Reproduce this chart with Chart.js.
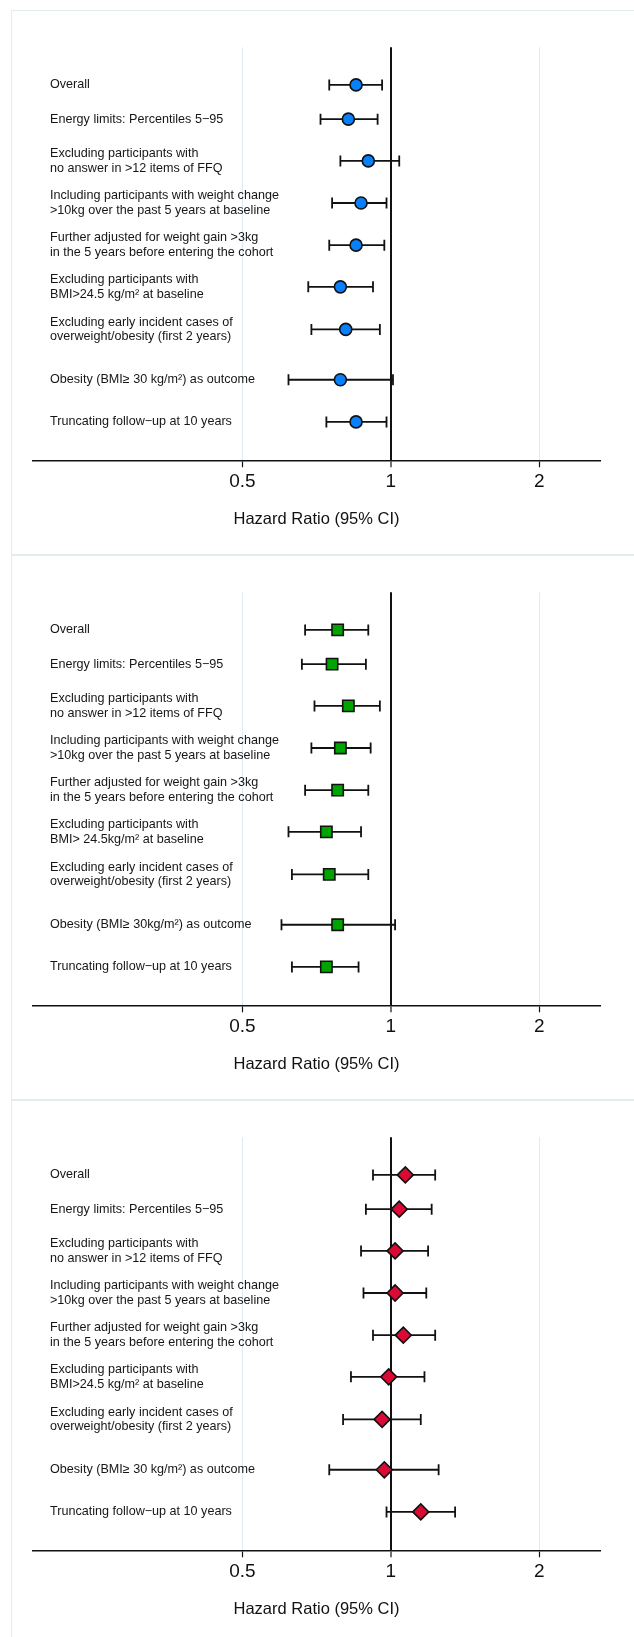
<!DOCTYPE html>
<html>
<head>
<meta charset="utf-8">
<script src="https://cdn.jsdelivr.net/npm/chart.js@4.4.1/dist/chart.umd.min.js"></script>
<style>
  html, body { margin: 0; padding: 0; background: #fff; }
  body { position: relative; width: 634px; height: 1637px; overflow: hidden; }
  .marco { position: absolute; left: 11px; width: 640px; height: 545px; border: 1px solid #e2eded; box-sizing: border-box; }
  canvas { position: absolute; left: 0; }
</style>
</head>
<body>
<div class="marco" style="top:10px"></div>
<div class="marco" style="top:555px"></div>
<div class="marco" style="top:1100px"></div>
<canvas id="panel1" width="634" height="545" style="top:10px"></canvas>
<canvas id="panel2" width="634" height="545" style="top:555px"></canvas>
<canvas id="panel3" width="634" height="545" style="top:1100px"></canvas>
<script>
var fuente = '"Liberation Sans", Arial, Helvetica, sans-serif';

// filas (mismo orden en los tres paneles)
var etiquetas = [
  'Overall',
  'Energy limits: Percentiles 5\u221295',
  ['Excluding participants with', 'no answer in >12 items of FFQ'],
  ['Including participants with weight change', '>10kg over the past 5 years at baseline'],
  ['Further adjusted for weight gain >3kg', 'in the 5 years before entering the cohort'],
  ['Excluding participants with', 'BMI>24.5 kg/m\u00b2 at baseline'],
  ['Excluding early incident cases of', 'overweight/obesity (first 2 years)'],
  'Obesity (BMI\u2265 30 kg/m\u00b2) as outcome',
  'Truncating follow\u2212up at 10 years'
];
var etiquetas2 = [
  'Overall',
  'Energy limits: Percentiles 5\u221295',
  ['Excluding participants with', 'no answer in >12 items of FFQ'],
  ['Including participants with weight change', '>10kg over the past 5 years at baseline'],
  ['Further adjusted for weight gain >3kg', 'in the 5 years before entering the cohort'],
  ['Excluding participants with', 'BMI> 24.5kg/m\u00b2 at baseline'],
  ['Excluding early incident cases of', 'overweight/obesity (first 2 years)'],
  'Obesity (BMI\u2265 30kg/m\u00b2) as outcome',
  'Truncating follow\u2212up at 10 years'
];
// posicion vertical de cada fila (unidades del eje y, 0 = eje x)
var posFilas = [9.09, 8.26, 7.25, 6.23, 5.21, 4.2, 3.17, 1.95, 0.93];
var ticksHR = [0.5, 1, 2];

var hr1 = [0.85, 0.82, 0.90, 0.87, 0.85, 0.79, 0.81, 0.79, 0.85];
var lo1 = [0.75, 0.72, 0.79, 0.76, 0.75, 0.68, 0.69, 0.62, 0.74];
var hi1 = [0.96, 0.94, 1.04, 0.98, 0.97, 0.92, 0.95, 1.01, 0.98];

var hr2 = [0.78, 0.76, 0.82, 0.79, 0.78, 0.74, 0.75, 0.78, 0.74];
var lo2 = [0.67, 0.66, 0.70, 0.69, 0.67, 0.62, 0.63, 0.60, 0.63];
var hi2 = [0.90, 0.89, 0.95, 0.91, 0.90, 0.87, 0.90, 1.02, 0.86];

var hr3 = [1.07, 1.04, 1.02, 1.02, 1.06, 0.99, 0.96, 0.97, 1.15];
var lo3 = [0.92, 0.89, 0.87, 0.88, 0.92, 0.83, 0.80, 0.75, 0.98];
var hi3 = [1.23, 1.21, 1.19, 1.18, 1.23, 1.17, 1.15, 1.25, 1.35];

var pluginEtiquetas = {
  id: 'etiquetas',
  afterDatasetsDraw: function(chart, args, opts) {
    var ctx = chart.ctx;
    var escalaY = chart.scales.y;
    var area = chart.chartArea;
    ctx.save();
    ctx.font = '12.6px ' + fuente;
    ctx.fillStyle = '#161616';
    ctx.textAlign = 'left';
    ctx.textBaseline = 'middle';
    opts.textos.forEach(function(t, i) {
      var lineas = Array.isArray(t) ? t : [t];
      var yc = escalaY.getPixelForValue(posFilas[i]);
      lineas.forEach(function(l, k) {
        ctx.fillText(l, area.left + 17, yc + (k - (lineas.length - 1) / 2) * 14.7);
      });
    });
    ctx.restore();
  }
};

function crearPanel(id, hr, lo, hi, textos, color, estilo, radio) {
  var datasets = [];
  for (var i = 0; i < hr.length; i++) {
    datasets.push({
      data: [{ x: lo[i], y: posFilas[i] }, { x: hi[i], y: posFilas[i] }],
      showLine: true,
      borderColor: '#111',
      borderWidth: 1.8,
      pointStyle: 'line',
      pointRotation: 90,
      pointRadius: 5.5,
      pointBorderColor: '#111',
      pointBorderWidth: 1.8,
      order: 1
    });
  }
  datasets.push({
    data: hr.map(function(v, i) { return { x: v, y: posFilas[i] }; }),
    showLine: false,
    pointStyle: estilo,
    pointRadius: radio,
    pointBackgroundColor: color,
    pointBorderColor: '#111',
    pointBorderWidth: 1.6,
    order: 0
  });

  new Chart(document.getElementById(id).getContext('2d'), {
    type: 'scatter',
    data: { datasets: datasets },
    options: {
      responsive: false,
      animation: false,
      events: [],
      layout: { padding: { left: 33, right: 34, top: 37.3, bottom: 0 } },
      plugins: {
        legend: { display: false },
        tooltip: { enabled: false },
        etiquetas: { textos: textos }
      },
      scales: {
        x: {
          type: 'logarithmic',
          min: 0.188,
          max: 2.656,
          afterBuildTicks: function(s) { s.ticks = ticksHR.map(function(v) { return { value: v }; }); },
          afterFit: function(s) { s.height = 94.7; },
          ticks: {
            autoSkip: false,
            maxRotation: 0,
            padding: 3,
            color: '#111',
            font: { family: fuente, size: 19 },
            callback: function(v) { return String(v); }
          },
          grid: {
            color: function(c) { return c.tick && c.tick.value === 1 ? '#111' : '#dcecf1'; },
            lineWidth: function(c) { return c.tick && c.tick.value === 1 ? 2 : 1; },
            tickColor: '#111',
            tickWidth: 1.2,
            tickLength: 7
          },
          border: { display: true, color: '#111', width: 1.5 },
          title: {
            display: true,
            text: 'Hazard Ratio (95% CI)',
            color: '#111',
            font: { family: fuente, size: 16.5 },
            padding: { top: 0, bottom: 26 }
          }
        },
        y: { type: 'linear', min: 0, max: 10, display: false }
      }
    },
    plugins: [pluginEtiquetas]
  });
}

crearPanel('panel1', hr1, lo1, hi1, etiquetas, '#0780fa', 'circle', 6);
crearPanel('panel2', hr2, lo2, hi2, etiquetas2, '#00a400', 'rect', 8);
crearPanel('panel3', hr3, lo3, hi3, etiquetas, '#da0a35', 'rectRot', 8);
</script>
</body>
</html>
